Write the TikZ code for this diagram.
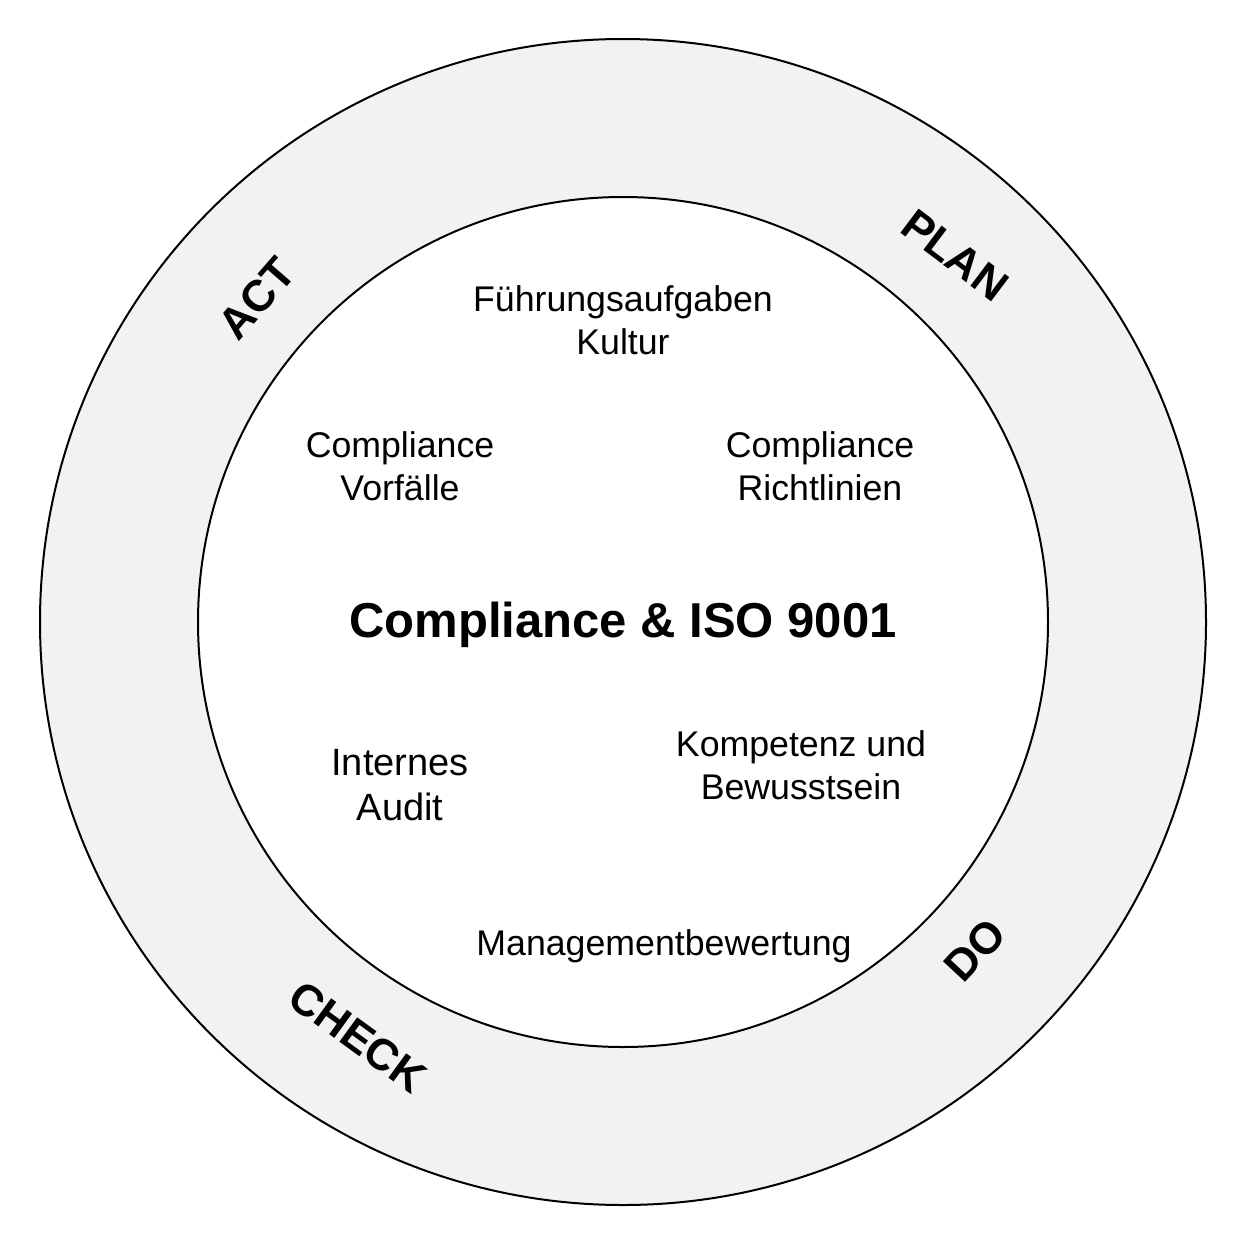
\documentclass[tikz,border=0pt]{standalone}
\usepackage{fontspec}
\setmainfont{Liberation Sans}
\begin{document}
\begin{tikzpicture}[x=1pt,y=-1pt,
  ringlabel/.style={font=\fontsize{44}{52}\selectfont\bfseries, inner sep=0pt},
  item/.style={font=\fontsize{35.7}{43}\selectfont, align=center, inner sep=0pt},
  title/.style={font=\fontsize{49}{58}\selectfont\bfseries, inner sep=0pt}]
\useasboundingbox (0,0) rectangle (1245,1245);
\fill[white] (0,0) rectangle (1245,1245);
\coordinate (c) at (623,622);
\draw[line width=2pt, fill={rgb,255:red,242;green,242;blue,242}] (c) circle (583);
\draw[line width=2pt, fill=white] (c) circle (425);
\node[ringlabel, rotate=-37] (plan) at (955,255) {PLAN};
\node[ringlabel, rotate=49] (act) at (257,298) {ACT};
\node[ringlabel, rotate=47] (do) at (975,950) {DO};
\node[ringlabel, rotate=-36] (check) at (358,1037) {CHECK};
\node[item] (fuehrung) at (623,320) {Führungsaufgaben\\Kultur};
\node[item] (vorfaelle) at (400,466) {Compliance\\Vorfälle};
\node[item] (richtlinien) at (820,466) {Compliance\\Richtlinien};
\node[title] (titel) at (623,625) {Compliance \& ISO 9001};
\node[item, font=\fontsize{38}{45}\selectfont] (audit) at (400,785) {Internes\\Audit};
\node[item] (kompetenz) at (801,765) {Kompetenz und\\Bewusstsein};
\node[item] (management) at (664,946) {Managementbewertung};
\end{tikzpicture}
\end{document}
